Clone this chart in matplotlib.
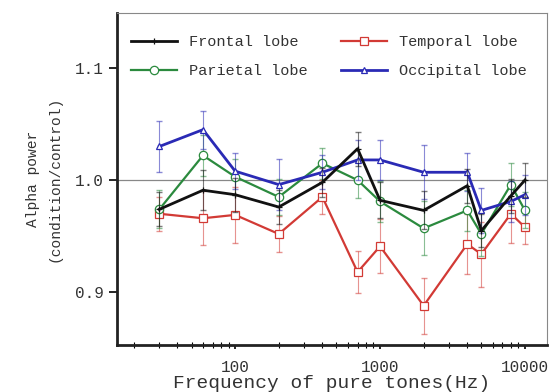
import matplotlib
matplotlib.use("Agg")
import matplotlib.pyplot as plt
from matplotlib.ticker import LogLocator, NullFormatter, FixedLocator, FixedFormatter

# frequencies of the pure tones (Hz)
freqs = [30, 60, 100, 200, 400, 700, 1000, 2000, 4000, 5000, 8000, 10000]

frontal = [0.974, 0.991, 0.987, 0.976, 0.998, 1.028, 0.982, 0.973, 0.995, 0.955, 0.986, 1.000]
frontal_err = [0.015, 0.018, 0.015, 0.015, 0.013, 0.015, 0.016, 0.017, 0.015, 0.015, 0.015, 0.015]

temporal = [0.970, 0.966, 0.969, 0.952, 0.985, 0.918, 0.941, 0.888, 0.943, 0.934, 0.970, 0.958]
temporal_err = [0.015, 0.024, 0.025, 0.016, 0.015, 0.019, 0.024, 0.025, 0.027, 0.029, 0.026, 0.015]

parietal = [0.974, 1.022, 1.003, 0.985, 1.015, 1.000, 0.981, 0.957, 0.973, 0.952, 0.996, 0.973]
parietal_err = [0.017, 0.018, 0.016, 0.016, 0.014, 0.016, 0.018, 0.024, 0.018, 0.020, 0.019, 0.016]

occipital = [1.030, 1.045, 1.008, 0.996, 1.007, 1.018, 1.018, 1.007, 1.007, 0.973, 0.981, 0.987]
occipital_err = [0.023, 0.017, 0.016, 0.023, 0.015, 0.018, 0.018, 0.024, 0.017, 0.020, 0.018, 0.018]

font = "Liberation Mono"
txt = "#333333"

fig = plt.figure(figsize=(5.49, 3.92), dpi=100)
ax = fig.add_axes([117 / 549, 47 / 392, 430 / 549, 332 / 392])

ax.axhline(1.0, color="#888888", lw=0.9, zorder=1)

def draw(y, err, color, marker, lw, ms, label, z):
    ax.errorbar(freqs, y, yerr=err, fmt="none", ecolor=color, elinewidth=0.8,
                capsize=2, alpha=0.55, zorder=z)
    ax.plot(freqs, y, color=color, lw=lw, marker=marker, ms=ms,
            mfc="white", mec=color, mew=0.9, label=label, zorder=z + 0.5)

draw(temporal, temporal_err, "#d23a35", "s", 1.6, 6, "Temporal lobe", 2)
draw(parietal, parietal_err, "#2b8a3e", "o", 1.6, 6, "Parietal lobe", 3)
draw(occipital, occipital_err, "#2a2ab5", "^", 2.0, 5, "Occipital lobe", 4)
draw(frontal, frontal_err, "#111111", "+", 2.0, 4, "Frontal lobe", 5)

ax.set_xscale("log")
ax.set_xlim(15.3, 14200)
ax.set_ylim(0.853, 1.149)

ax.xaxis.set_major_locator(FixedLocator([100, 1000, 10000]))
ax.xaxis.set_major_formatter(FixedFormatter(["100", "1000", "10000"]))
ax.xaxis.set_minor_locator(LogLocator(base=10, subs=range(2, 10)))
ax.xaxis.set_minor_formatter(NullFormatter())
ax.set_yticks([0.9, 1.0, 1.1])
ax.set_yticklabels(["0.9", "1.0", "1.1"])

ax.tick_params(axis="x", which="major", direction="out", length=3, width=1.2, pad=8)
ax.tick_params(axis="x", which="minor", direction="inout", length=5, width=0.8)
ax.tick_params(axis="y", which="major", direction="out", length=6, width=1.2)
ax.tick_params(labelsize=11.5, labelcolor=txt)
for lab in ax.get_xticklabels() + ax.get_yticklabels():
    lab.set_family(font)

for side in ["left", "bottom"]:
    ax.spines[side].set_linewidth(2.0)
    ax.spines[side].set_color("#222222")
for side in ["top", "right"]:
    ax.spines[side].set_linewidth(0.8)
    ax.spines[side].set_color("#888888")

ax.set_xlabel("Frequency of pure tones(Hz)", family=font, fontsize=14,
              color=txt, labelpad=0)
ax.set_ylabel("Alpha power\n(condition/control)", family=font, fontsize=10.5,
              color=txt, labelpad=10, linespacing=1.6)

h, l = ax.get_legend_handles_labels()
order = [3, 1, 0, 2]
ax.legend([h[i] for i in order], [l[i] for i in order], ncol=2, frameon=False,
          loc="upper left", bbox_to_anchor=(0.0, 0.975),
          prop={"family": font, "size": 11}, labelcolor=txt,
          handlelength=3.0, handletextpad=0.8, columnspacing=2.2,
          labelspacing=1.0)

fig.savefig("out.png", dpi=100)
